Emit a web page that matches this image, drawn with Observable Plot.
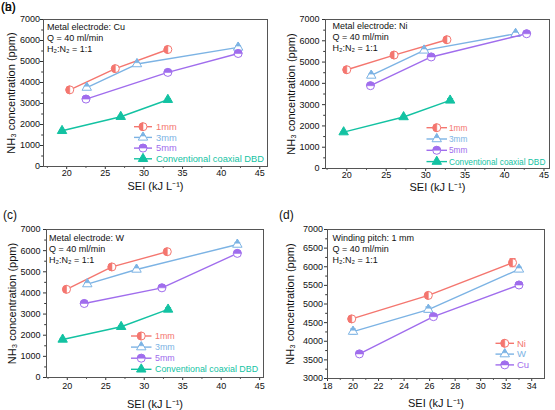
<!DOCTYPE html>
<html><head><meta charset="utf-8">
<script src="https://cdn.jsdelivr.net/npm/d3@7"></script>
<script src="https://cdn.jsdelivr.net/npm/@observablehq/plot@0.6"></script>
<style>
body{margin:0;background:#fff;}
#wrap{position:relative;width:555px;height:410px;overflow:hidden;font-family:"Liberation Sans",Arial,sans-serif;}
#wrap svg{position:absolute;}
.tag{position:absolute;font-size:12px;color:#111;line-height:1;}
</style></head><body><div id="wrap"></div><script>
// ---------- data ----------
// Panel (a) Cu
const a_1mm_x=[20.4,26.3,33.1], a_1mm_y=[3650,4660,5570], a_1mm_e=[60,50,60];
const a_3mm_x=[22.6,29.1,42.2], a_3mm_y=[3760,4880,5670], a_3mm_e=[60,50,60];
const a_5mm_x=[22.5,33.1,42.2], a_5mm_y=[3210,4480,5380], a_5mm_e=[50,50,60];
const a_conv_x=[19.4,27.0,33.1], a_conv_y=[1700,2370,3180], a_conv_e=[30,40,50];
// Panel (b) Ni
const b_1mm_x=[20.0,26.0,32.7], b_1mm_y=[4640,5330,6050], b_1mm_e=[50,50,60];
const b_3mm_x=[23.1,29.8,41.4], b_3mm_y=[4370,5550,6330], b_3mm_e=[60,50,60];
const b_5mm_x=[23.0,30.7,42.8], b_5mm_y=[3890,5240,6330], b_5mm_e=[50,50,60];
const b_conv_x=[19.6,27.2,33.1], b_conv_y=[1710,2420,3200], b_conv_e=[30,40,80];
// Panel (c) W
const c_1mm_x=[19.9,25.8,33.0], c_1mm_y=[4170,5230,5950], c_1mm_e=[80,60,100];
const c_3mm_x=[22.6,29.0,42.1], c_3mm_y=[4420,5110,6290], c_3mm_e=[50,50,80];
const c_5mm_x=[22.2,32.3,42.1], c_5mm_y=[3500,4240,5870], c_5mm_e=[50,70,90];
const c_conv_x=[19.4,27.0,33.1], c_conv_y=[1800,2400,3220], c_conv_e=[50,50,80];
// Panel (d) winding pitch 1 mm
const d_ni_x=[19.9,25.9,32.5], d_ni_y=[4600,5230,6110], d_ni_e=[60,50,110];
const d_w_x=[20.0,25.9,33.0], d_w_y=[4260,4850,5930], d_w_e=[70,70,60];
const d_cu_x=[20.5,26.3,33.0], d_cu_y=[3660,4660,5510], d_cu_e=[40,40,70];

const seriesNames=["1mm","3mm","5mm","Conventional coaxial DBD"];
const metalNames=["Ni","W","Cu"];
const notesABC=["Metal electrode: Cu","Metal electrode: Ni","Metal electrode: W"];
const noteD="Winding pitch: 1 mm";
const noteQ="Q = 40 ml/min", noteH="H\u2082:N\u2082 = 1:1";
const xTitle="SEI (kJ L\u207B\u00B9)", yTitle="NH\u2083 concentration (ppm)";
const xTicksABC=[20,25,30,35,40,45], xMinorABC=[17.5,22.5,27.5,32.5,37.5,42.5];
const yTicksABC=[0,1000,2000,3000,4000,5000,6000,7000], yMinorABC=[500,1500,2500,3500,4500,5500,6500];
const xTicksD=[18,20,22,24,26,28,30,32,34], xMinorD=[19,21,23,25,27,29,31,33];
const yTicksD=[3000,3500,4000,4500,5000,5500,6000,6500,7000], yMinorD=[3250,3750,4250,4750,5250,5750,6250,6750];

// ---------- style ----------
const F="'Liberation Sans', Arial, sans-serif";
const RED="#f4766f", BLUE="#7cb3e4", PURPLE="#a06ded", TEAL="#13c2a2";
const S3=Math.sqrt(3);
const circle={draw(c,s){const r=Math.sqrt(s/Math.PI);c.moveTo(r,0);c.arc(0,0,r,0,2*Math.PI);c.closePath();}};
const halfLeft={draw(c,s){const r=Math.sqrt(s/Math.PI);c.moveTo(0,-r);c.arc(0,0,r,-Math.PI/2,Math.PI/2,true);c.closePath();}};
const halfTop={draw(c,s){const r=Math.sqrt(s/Math.PI);c.moveTo(r,0);c.arc(0,0,r,0,Math.PI,true);c.closePath();}};
const tri={draw(c,s){const y=-Math.sqrt(s/(S3*3));c.moveTo(0,2*y);c.lineTo(-S3*y,-y);c.lineTo(S3*y,-y);c.closePath();}};
const triTop={draw(c,s){const y=-Math.sqrt(s/(S3*3));c.moveTo(0,2*y);c.lineTo(-S3*y/2,y/2);c.lineTo(S3*y/2,y/2);c.closePath();}};
const hline={draw(c,s){const r=Math.sqrt(s/Math.PI);c.moveTo(-r,0);c.lineTo(r,0);}};
const KIND={
  left:{outline:circle,half:halfLeft,r:4},
  top:{outline:circle,half:halfTop,r:4},
  tri:{outline:tri,half:triTop,r:3.5},
  triFill:{outline:tri,half:null,r:3.5}
};
function mk(xs,ys,es){return xs.map((x,i)=>({x,y:ys[i],e:es[i]}));}

function panel(cfg){
  const marks=[];
  marks.push(Plot.axisY(cfg.yMinor,{tickSize:1.8,fill:"none",stroke:"#333",label:null}));
  marks.push(Plot.axisX(cfg.xMinor,{tickSize:1.8,fill:"none",stroke:"#333",label:null}));
  marks.push(Plot.axisY(cfg.yTicks,{tickSize:3,tickPadding:cfg.yPad,fontSize:9,fill:"#111",stroke:"#333",label:null,tickFormat:d=>String(d)}));
  marks.push(Plot.axisX(cfg.xTicks,{tickSize:3,tickPadding:cfg.xPad,fontSize:9,fill:"#111",stroke:"#333",label:null,tickFormat:d=>String(d)}));
  marks.push(Plot.frame({stroke:"#555",strokeWidth:1}));
  marks.push(Plot.text([xTitle],{text:d=>d,frameAnchor:"bottom",textAnchor:"middle",lineAnchor:"middle",dy:cfg.xTitleDy,fontSize:11,fill:"#111"}));
  marks.push(Plot.text([yTitle],{text:d=>d,frameAnchor:"left",textAnchor:"middle",lineAnchor:"middle",dx:cfg.yTitleDx,rotate:-90,fontSize:11,fill:"#111"}));
  marks.push(Plot.text([cfg.note.join("\n")],{text:d=>d,frameAnchor:"top-left",textAnchor:"start",lineAnchor:"top",dx:cfg.noteDx,dy:cfg.noteDy,fontSize:9,lineHeight:1.22,fill:"#111"}));
  for(const s of cfg.series){
    const data=mk(s.x,s.y,s.e), k=KIND[s.kind];
    marks.push(Plot.line(data,{x:"x",y:"y",stroke:s.color,strokeWidth:1.4}));
    marks.push(Plot.ruleX(data,{x:"x",y1:d=>d.y-d.e,y2:d=>d.y+d.e,stroke:s.color,strokeWidth:1}));
    marks.push(Plot.dot(data,{x:"x",y:d=>d.y-d.e,symbol:hline,r:3,stroke:s.color,fill:"none",strokeWidth:1}));
    marks.push(Plot.dot(data,{x:"x",y:d=>d.y+d.e,symbol:hline,r:3,stroke:s.color,fill:"none",strokeWidth:1}));
    if(k.half){
      marks.push(Plot.dot(data,{x:"x",y:"y",symbol:k.outline,r:k.r,fill:"white",stroke:s.color,strokeWidth:1}));
      marks.push(Plot.dot(data,{x:"x",y:"y",symbol:k.half,r:k.r,fill:s.color,stroke:s.color,strokeWidth:0.6}));
    } else {
      marks.push(Plot.dot(data,{x:"x",y:"y",symbol:k.outline,r:k.r,fill:s.color,stroke:s.color,strokeWidth:1}));
    }
  }
  const svg=Plot.plot({
    width:cfg.w,height:cfg.h,
    marginLeft:cfg.ml,marginRight:cfg.mr,marginTop:cfg.mt,marginBottom:cfg.mb,
    x:{domain:cfg.xDomain},y:{domain:cfg.yDomain},
    style:{fontFamily:F,fontSize:"9px",background:"transparent",color:"#111",overflow:"visible"},
    marks
  });
  svg.style.left=cfg.left+"px";svg.style.top=cfg.top+"px";
  // legend
  const lg=cfg.legend;
  const g=d3.select(svg).append("g").attr("font-family",F).attr("font-size",lg.fs).attr("text-anchor","start");
  cfg.series.forEach((s,i)=>{
    const yy=lg.y+i*lg.dy, k=KIND[s.kind], size=Math.PI*k.r*k.r;
    g.append("line").attr("x1",lg.x1).attr("x2",lg.x2).attr("y1",yy).attr("y2",yy).attr("stroke",s.color).attr("stroke-width",1.4);
    const tr=`translate(${(lg.x1+lg.x2)/2},${yy})`;
    if(k.half){
      g.append("path").attr("d",d3.symbol(k.outline,size)()).attr("transform",tr).attr("fill","white").attr("stroke",s.color);
      g.append("path").attr("d",d3.symbol(k.half,size)()).attr("transform",tr).attr("fill",s.color).attr("stroke",s.color).attr("stroke-width",0.6);
    } else {
      g.append("path").attr("d",d3.symbol(k.outline,size)()).attr("transform",tr).attr("fill",s.color).attr("stroke",s.color);
    }
    g.append("text").attr("x",lg.tx).attr("y",yy).attr("dy","0.35em").attr("text-anchor","start").attr("fill",s.color).text(s.name);
  });
  document.getElementById("wrap").appendChild(svg);
  const t=document.createElement("div");t.className="tag";t.textContent=cfg.tag;
  t.style.left=cfg.tagX+"px";t.style.top=cfg.tagY+"px";
  document.getElementById("wrap").appendChild(t);
}

function abcSeries(p){
  return [
    {name:seriesNames[0],x:p[0],y:p[1],e:p[2],color:RED,kind:"left"},
    {name:seriesNames[1],x:p[3],y:p[4],e:p[5],color:BLUE,kind:"tri"},
    {name:seriesNames[2],x:p[6],y:p[7],e:p[8],color:PURPLE,kind:"top"},
    {name:seriesNames[3],x:p[9],y:p[10],e:p[11],color:TEAL,kind:"triFill"}
  ];
}

panel({left:0,top:0,w:277,h:205,ml:43,mr:10,mt:19,mb:39,xDomain:[17,46],yDomain:[0,7000],
  xTicks:xTicksABC,xMinor:xMinorABC,yTicks:yTicksABC,yMinor:yMinorABC,xPad:0,yPad:0.5,
  xTitleDy:19.5,yTitleDx:-32,note:[notesABC[0],noteQ,noteH],noteDx:3.5,noteDy:3,
  series:abcSeries([a_1mm_x,a_1mm_y,a_1mm_e,a_3mm_x,a_3mm_y,a_3mm_e,a_5mm_x,a_5mm_y,a_5mm_e,a_conv_x,a_conv_y,a_conv_e]),
  legend:{x1:134,x2:152,tx:156,y:126.7,dy:10.7,fs:9.3},tag:"(a)",tagX:1,tagY:1});

panel({left:277,top:0,w:278,h:205,ml:48,mr:6,mt:19,mb:37,xDomain:[17.3,45.7],yDomain:[0,7000],
  xTicks:xTicksABC,xMinor:xMinorABC,yTicks:yTicksABC,yMinor:yMinorABC,xPad:0,yPad:3,
  xTitleDy:19,yTitleDx:-34.5,note:[notesABC[1],noteQ,noteH],noteDx:7,noteDy:2,
  series:abcSeries([b_1mm_x,b_1mm_y,b_1mm_e,b_3mm_x,b_3mm_y,b_3mm_e,b_5mm_x,b_5mm_y,b_5mm_e,b_conv_x,b_conv_y,b_conv_e]),
  legend:{x1:149.5,x2:170,tx:172,y:127.7,dy:11.3,fs:8.3},tag:"(b)",tagX:1,tagY:1});

panel({left:0,top:205,w:277,h:205,ml:46,mr:14,mt:24,mb:33,xDomain:[17.3,45.5],yDomain:[0,7000],
  xTicks:xTicksABC,xMinor:xMinorABC,yTicks:yTicksABC,yMinor:yMinorABC,xPad:2,yPad:3,
  xTitleDy:27,yTitleDx:-34,note:[notesABC[2],noteQ,noteH],noteDx:2.5,noteDy:4,
  series:abcSeries([c_1mm_x,c_1mm_y,c_1mm_e,c_3mm_x,c_3mm_y,c_3mm_e,c_5mm_x,c_5mm_y,c_5mm_e,c_conv_x,c_conv_y,c_conv_e]),
  legend:{x1:131,x2:151.5,tx:155,y:131,dy:11.1,fs:8.9},tag:"(c)",tagX:3,tagY:209});

panel({left:277,top:205,w:278,h:205,ml:50,mr:11,mt:24,mb:32,xDomain:[18,35],yDomain:[3000,7000],
  xTicks:xTicksD,xMinor:xMinorD,yTicks:yTicksD,yMinor:yMinorD,xPad:1,yPad:1.5,
  xTitleDy:25,yTitleDx:-37,note:[noteD,noteQ,noteH],noteDx:5,noteDy:4,
  series:[
    {name:metalNames[0],x:d_ni_x,y:d_ni_y,e:d_ni_e,color:RED,kind:"left"},
    {name:metalNames[1],x:d_w_x,y:d_w_y,e:d_w_e,color:BLUE,kind:"tri"},
    {name:metalNames[2],x:d_cu_x,y:d_cu_y,e:d_cu_e,color:PURPLE,kind:"top"}
  ],
  legend:{x1:218.5,x2:237,tx:240,y:138.3,dy:10.8,fs:9.5},tag:"(d)",tagX:279,tagY:209});
</script></body></html>
